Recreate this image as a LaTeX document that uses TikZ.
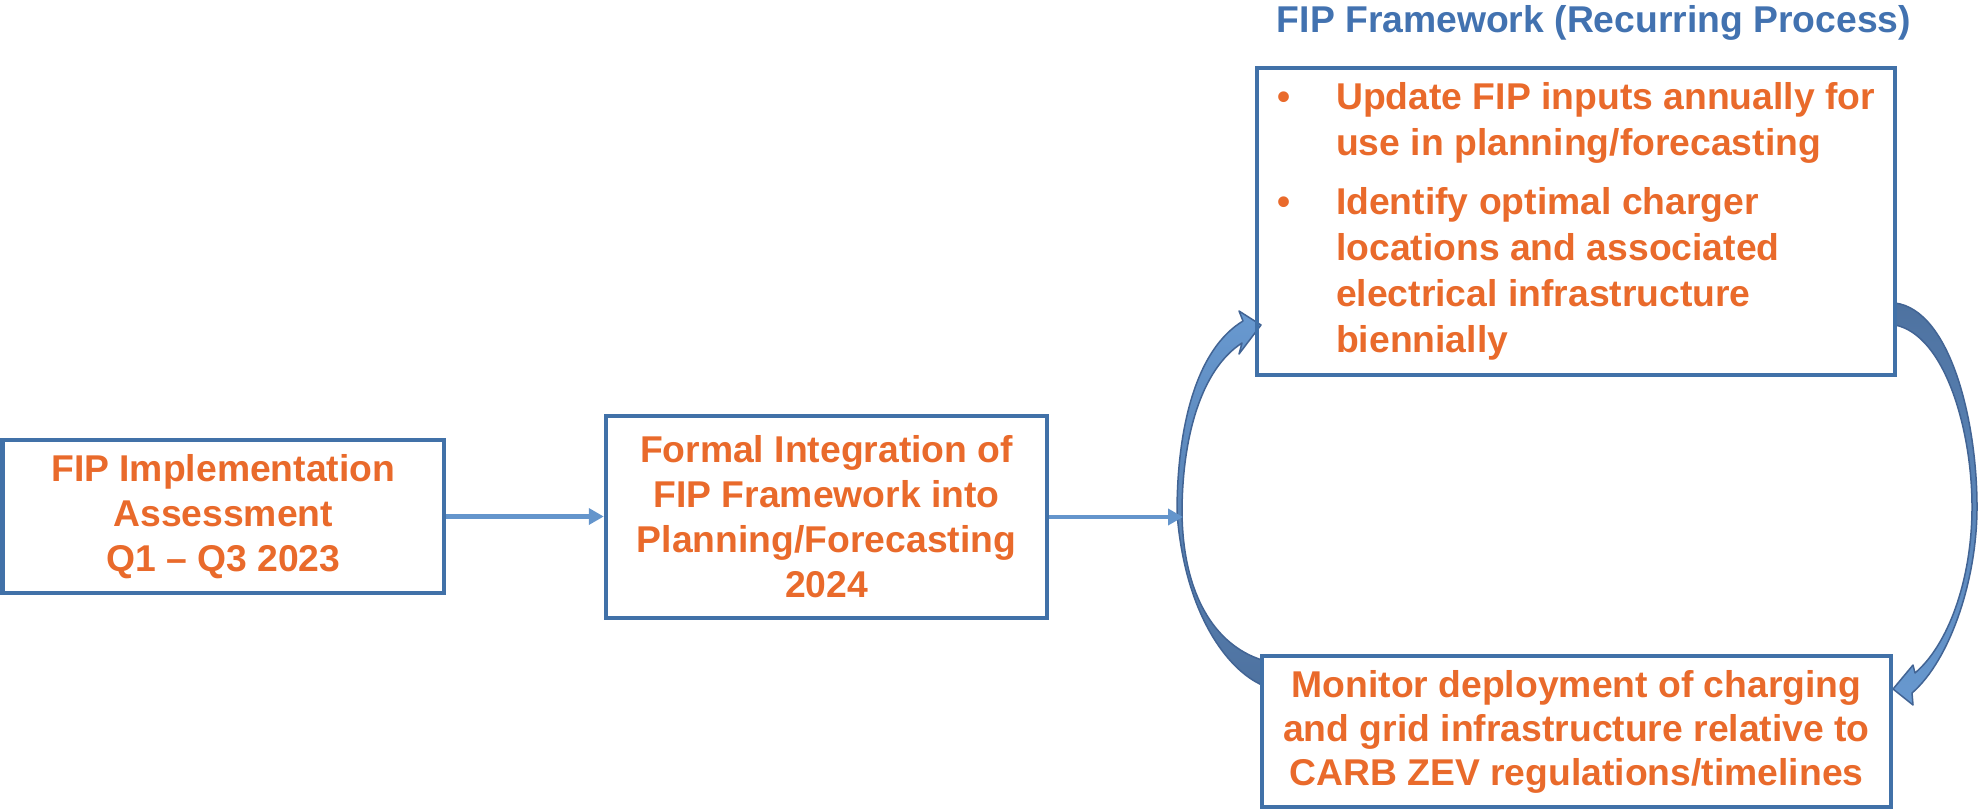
\documentclass[tikz,border=0pt]{standalone}
\usepackage{fontspec}
\setmainfont{Liberation Sans}
\usetikzlibrary{arrows.meta}
\definecolor{txtorange}{RGB}{233,106,43}
\definecolor{boxblue}{RGB}{65,113,168}
\definecolor{titleblue}{RGB}{66,114,176}
\definecolor{arrowblue}{RGB}{100,149,204}
\definecolor{curvelight}{RGB}{104,153,208}
\definecolor{curvedark}{RGB}{78,114,160}
\definecolor{curveline}{RGB}{66,100,148}
\begin{document}
\begin{tikzpicture}[x=1pt,y=-1pt,
  box/.style={draw=boxblue, line width=4.5pt, inner sep=0pt, text=txtorange,
    font=\fontsize{37.3}{45}\selectfont\bfseries, align=center},
  flow/.style={draw=arrowblue, line width=4.5pt, -{Triangle[length=15pt,width=16pt]}},
  curvearrow/.style={draw=curveline, line width=1.5pt, line join=round}
]
\useasboundingbox (0,0) rectangle (1980,811);

% curved arrows of the recurring loop
\path[curvearrow, top color=curvelight, bottom color=curvedark]
  (1243,321) .. controls (1195,350) and (1177,430) .. (1177,513)
  .. controls (1185,615) and (1228,670) .. (1262,685) -- (1262,660)
  .. controls (1215,645) and (1183,595) .. (1182,513)
  .. controls (1182,440) and (1200,370) .. (1242,343)
  -- (1239,354) -- (1261,325) -- (1239,311) -- cycle;
\path[curvearrow, top color=curvedark, bottom color=curvelight]
  (1895,303) .. controls (1950,310) and (1977,420) .. (1977,507)
  .. controls (1977,580) and (1950,660) .. (1912,693)
  -- (1913,705) -- (1893,689) -- (1913,665) -- (1915,673)
  .. controls (1948,645) and (1972,580) .. (1972,507)
  .. controls (1972,430) and (1945,335) .. (1895,325) -- cycle;

% boxes
\node[box, minimum width=441.5pt, minimum height=153pt] (b1) at (223.25,516.5)
  {FIP Implementation\\Assessment\\Q1 \textendash{} Q3 2023};
\node[box, minimum width=441pt, minimum height=202pt] (b2) at (826.5,517)
  {Formal Integration of\\FIP Framework into\\Planning/Forecasting\\2024};
\node[box, minimum width=638pt, minimum height=307pt, align=left,
  font=\fontsize{37.3}{46}\selectfont\bfseries] (b3) at (1576,221.5)
  {\makebox[59pt][l]{\textbullet}Update FIP inputs annually for\\
   \hspace*{59pt}use in planning/forecasting\\[13pt]
   \makebox[59pt][l]{\textbullet}Identify optimal charger\\
   \hspace*{59pt}locations and associated\\
   \hspace*{59pt}electrical infrastructure\\
   \hspace*{59pt}biennially};
\node[box, minimum width=629pt, minimum height=151pt,
  font=\fontsize{37.3}{44}\selectfont\bfseries] (b4) at (1576.5,731.5)
  {Monitor deployment of charging\\and grid infrastructure relative to\\CARB ZEV regulations/timelines};

\node[text=titleblue, font=\fontsize{37.3}{45}\selectfont\bfseries, anchor=base] (title) at (1594,32)
  {FIP Framework (Recurring Process)};

% straight connectors
\coordinate (loopL) at (1183,516);
\draw[flow] (b1.east) -- (b1.east -| b2.west);
\draw[flow] (b2.east) -- (b2.east -| loopL);
\end{tikzpicture}
\end{document}
